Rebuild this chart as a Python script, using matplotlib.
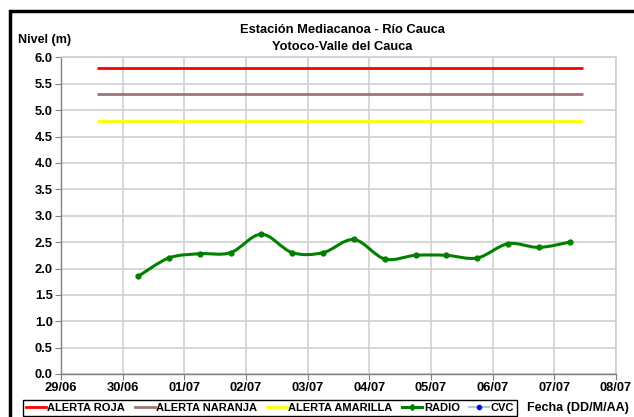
import matplotlib
matplotlib.use("Agg")
import matplotlib.pyplot as plt
import matplotlib.dates as mdates
from matplotlib.path import Path
from matplotlib.patches import PathPatch, Rectangle
from matplotlib.lines import Line2D
import pandas as pd
import numpy as np

plt.rcParams['font.family'] = ['Liberation Sans', 'DejaVu Sans']

# niveles de alerta (m)
alert_labels = ['ALERTA ROJA', 'ALERTA NARANJA', 'ALERTA AMARILLA']
alert_levels = [5.8, 5.3, 4.8]
alert_colors = ['#FF0000', '#A07474', '#FFFF00']
alert_span = ['2014-06-29 14:00', '2014-07-07 11:00']

# lecturas de la estacion (RADIO)
radio_times = ['2014-06-30 06:00', '2014-06-30 18:00', '2014-07-01 06:00', '2014-07-01 18:00',
               '2014-07-02 06:00', '2014-07-02 18:00', '2014-07-03 06:00', '2014-07-03 18:00',
               '2014-07-04 06:00', '2014-07-04 18:00', '2014-07-05 06:00', '2014-07-05 18:00',
               '2014-07-06 06:00', '2014-07-06 18:00', '2014-07-07 06:00']
radio_values = [1.85, 2.20, 2.28, 2.30, 2.65, 2.30, 2.30, 2.55,
                2.18, 2.25, 2.25, 2.20, 2.47, 2.40, 2.50]

x_ticks = pd.date_range('2014-06-29', '2014-07-08', freq='D')
y_ticks = np.arange(0, 6.01, 0.5)


def smooth_path(xs, ys):
    # curva tipo Excel "linea suavizada" (Catmull-Rom -> bezier cubica)
    pts = list(zip(xs, ys))
    verts = [pts[0]]
    codes = [Path.MOVETO]
    n = len(pts)
    for i in range(n - 1):
        p0 = pts[i - 1] if i > 0 else pts[i]
        p1 = pts[i]
        p2 = pts[i + 1]
        p3 = pts[i + 2] if i + 2 < n else pts[i + 1]
        c1 = (p1[0] + (p2[0] - p0[0]) / 6, p1[1] + (p2[1] - p0[1]) / 6)
        c2 = (p2[0] - (p3[0] - p1[0]) / 6, p2[1] - (p3[1] - p1[1]) / 6)
        verts += [c1, c2, p2]
        codes += [Path.CURVE4] * 3
    return Path(verts, codes)


fig = plt.figure(figsize=(6.34, 4.17), dpi=100)
ax = fig.add_axes([61 / 634, 1 - 374 / 417, (616 - 61) / 634, (374 - 57.5) / 417])

t0, t1 = pd.to_datetime(alert_span)
for lvl, col, lab in zip(alert_levels, alert_colors, alert_labels):
    ax.plot([t0, t1], [lvl, lvl], color=col, lw=2, label=lab, solid_capstyle='butt')

rt = pd.to_datetime(radio_times)
xn = mdates.date2num(rt)
ax.add_patch(PathPatch(smooth_path(xn, radio_values), fill=False, edgecolor='#008000', lw=2.2))
ax.plot(rt, radio_values, ls='none', marker='o', ms=3.5, color='#008000')

ax.set_xlim(x_ticks[0], x_ticks[-1])
ax.set_ylim(0, 6)
ax.set_xticks(x_ticks)
ax.set_xticklabels([d.strftime('%d/%m') for d in x_ticks], fontweight='bold')
ax.set_yticks(y_ticks)
ax.set_yticklabels([f'{v:.1f}' for v in y_ticks], fontweight='bold')
ax.tick_params(labelsize=9.3, length=4, color='#808080', pad=2)
ax.grid(True, color='#D0D0D0', lw=1.2)
ax.set_axisbelow(True)
for s in ['top', 'right']:
    ax.spines[s].set_color('#D0D0D0')
    ax.spines[s].set_linewidth(1.2)
for s in ['left', 'bottom']:
    ax.spines[s].set_color('#808080')
    ax.spines[s].set_linewidth(1.0)

fig.text(342 / 634, 1 - 30 / 417, 'Estación Mediacanoa - Río Cauca', ha='center', va='center',
         fontsize=9.3, fontweight='bold')
fig.text(342 / 634, 1 - 47 / 417, 'Yotoco-Valle del Cauca', ha='center', va='center',
         fontsize=9.3, fontweight='bold')
fig.text(18 / 634, 1 - 40 / 417, 'Nivel (m)', ha='left', va='center', fontsize=9, fontweight='bold')
fig.text(578 / 634, 1 - 408 / 417, 'Fecha (DD/M/AA)', ha='center', va='center', fontsize=9,
         fontweight='bold')

handles = [Line2D([], [], color=c, lw=2) for c in alert_colors]
handles.append(Line2D([], [], color='#008000', lw=2.2, marker='D', ms=3))
handles.append(Line2D([], [], color='#B8C4DC', lw=1.5, marker='o', ms=3, mfc='#0000FF', mec='#0000FF'))
labels = alert_labels + ['RADIO', 'CVC']
fig.legend(handles, labels, loc='lower left', bbox_to_anchor=(23 / 634, 1 / 417), ncol=5,
           prop={'size': 8, 'weight': 'bold'}, frameon=True, fancybox=False, edgecolor='black',
           framealpha=1, handlelength=1.8, handletextpad=0.15, columnspacing=0.85, borderpad=0.25,
           borderaxespad=0)

# marco negro exterior
fig.patches.append(Rectangle((10 / 634, -0.2), 1.2, 1.2 - 11 / 417, transform=fig.transFigure,
                             fill=False, edgecolor='black', lw=2.5))

fig.savefig('out.png', dpi=100)
